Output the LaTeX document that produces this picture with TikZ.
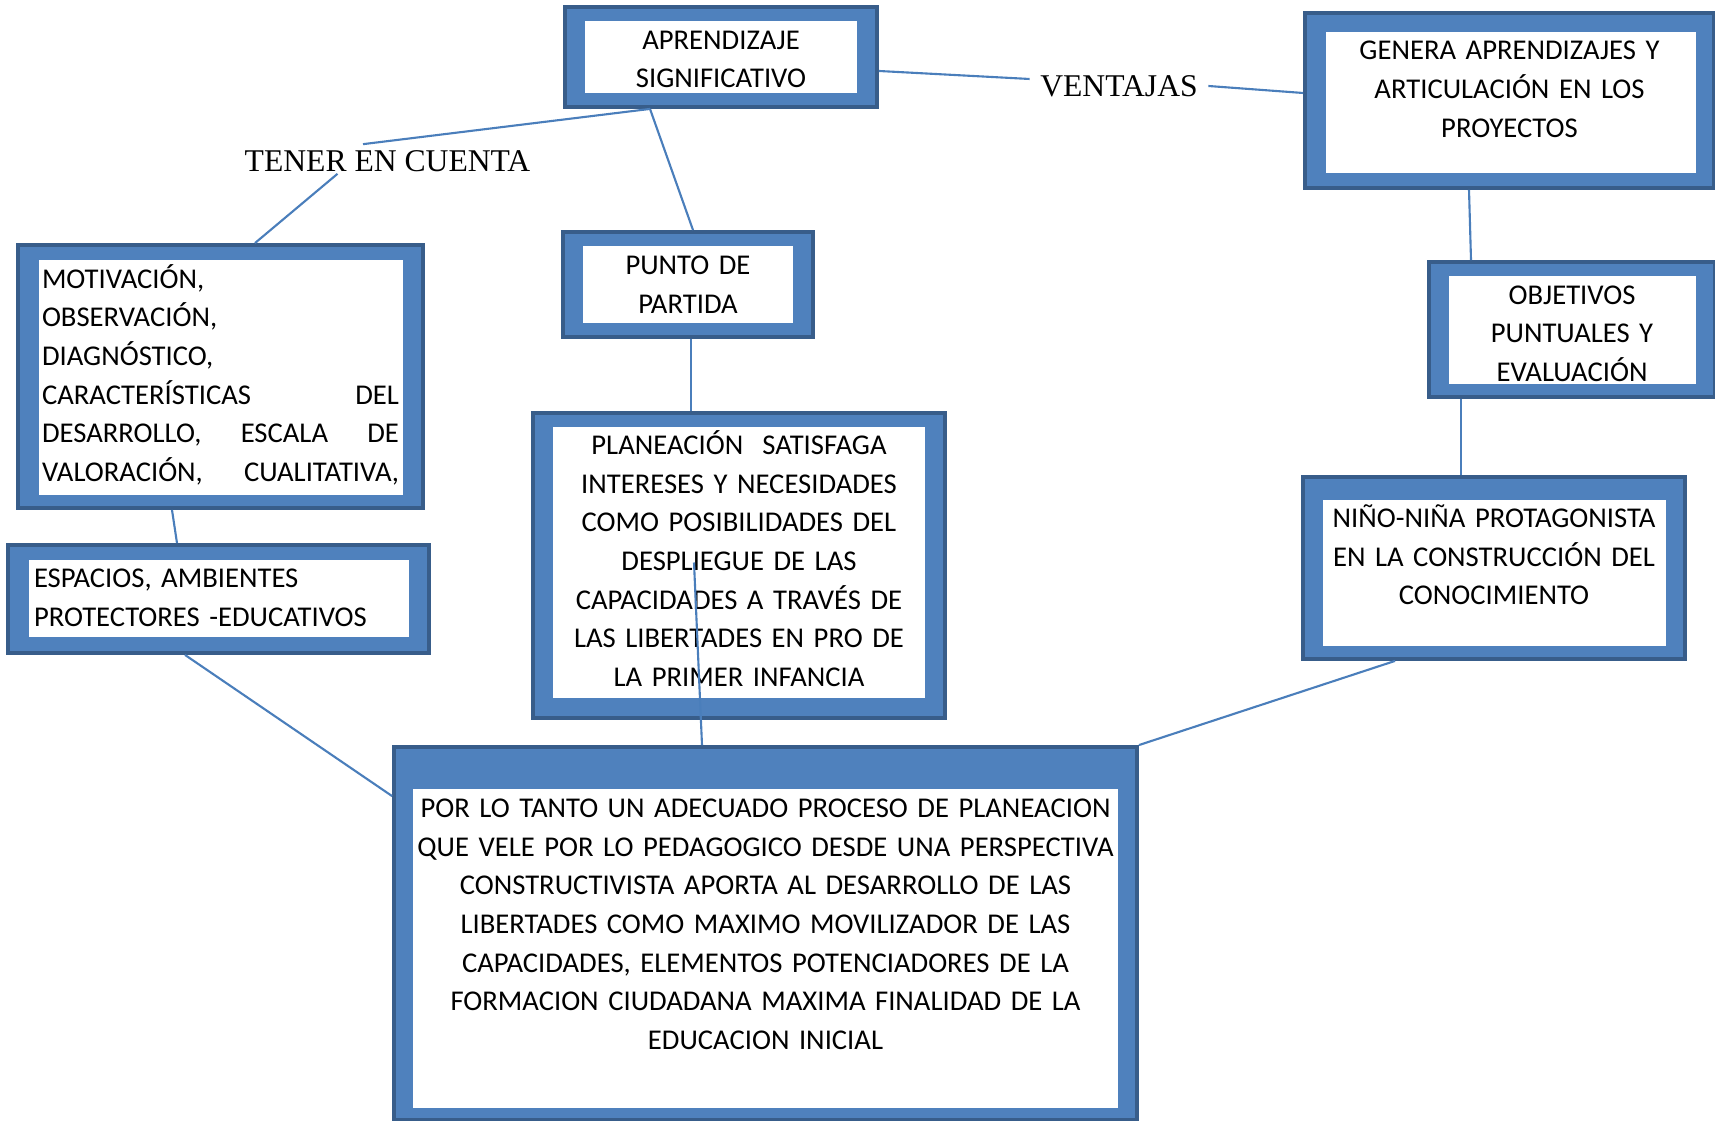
\documentclass[tikz,border=0pt]{standalone}
\usepackage{fontspec}
\setmainfont{Carlito}
\newfontfamily\serifface{Liberation Serif}
\usepackage{tikz}
\definecolor{boxblue}{HTML}{4F81BD}
\definecolor{boxdark}{HTML}{385D8A}
\definecolor{linkblue}{HTML}{4A7EBB}
\newcommand{\boxtext}{\fontsize{8.15pt}{11pt}\selectfont}
\newcommand{\tagtext}{\serifface\fontsize{9pt}{11pt}\selectfont}
\tikzset{band/.code n args={4}{\def\bl{#1}\def\br{#2}\def\bt{#3}\def\bb{#4}}}
\tikzstyle{concept} = [rectangle, draw=boxdark, line width=1.1pt, fill=boxblue, inner sep=0pt, align=center, text height=0.19cm, font=\boxtext, band={0.2cm}{0.2cm}{0.14cm}{0.14cm}, path picture={\fill[white] ([xshift=\bl, yshift=-\bt]path picture bounding box.north west) rectangle ([xshift=-\br, yshift=\bb]path picture bounding box.south east);}]
\tikzstyle{tag} = [inner sep=0.1cm, font=\tagtext]
\tikzstyle{link} = [draw=linkblue, line width=0.6pt]

\begin{document}
\begin{tikzpicture}
	\useasboundingbox (0,0) rectangle (17.15,11.2);
	\node (aprend) [concept, minimum width=3.12cm, minimum height=1cm, text width=2.8cm, text depth=0.347cm] at (7.21,10.63) {APRENDIZAJE\\SIGNIFICATIVO};
	\node (punto) [concept, minimum width=2.5cm, minimum height=1.05cm, text width=2.2cm, text depth=0.387cm] at (6.88,8.355) {PUNTO DE\\PARTIDA};
	\node (motiv) [concept, minimum width=4.05cm, minimum height=2.63cm, text width=3.57cm, align=justify, text depth=1.955cm, band={0.21cm}{0.2cm}{0.15cm}{0.13cm}] at (2.205,7.435) {MOTIVACIÓN,\\OBSERVACIÓN,\\DIAGNÓSTICO,\\CARACTERÍSTICAS\hfill DEL\\DESARROLLO,\hfill ESCALA\hfill DE\\VALORACIÓN,\hfill CUALITATIVA,};
	\node (espacios) [concept, minimum width=4.21cm, minimum height=1.08cm, text width=3.69cm, align=left, text depth=0.417cm, band={0.21cm}{0.2cm}{0.15cm}{0.16cm}] at (2.185,5.21) {ESPACIOS, AMBIENTES\\PROTECTORES -EDUCATIVOS};
	\node (planea) [concept, minimum width=4.12cm, minimum height=3.05cm, text width=3.9cm, text depth=2.41cm, band={0.2cm}{0.2cm}{0.14cm}{0.2cm}] at (7.39,5.545) {PLANEACIÓN~~SATISFAGA\\INTERESES Y NECESIDADES\\COMO POSIBILIDADES DEL\\DESPLIEGUE DE LAS\\CAPACIDADES A TRAVÉS DE\\LAS LIBERTADES EN PRO DE\\LA PRIMER INFANCIA};
	\node (genera) [concept, minimum width=4.09cm, minimum height=1.75cm, text width=3.9cm, text depth=1.003cm, band={0.21cm}{0.18cm}{0.19cm}{0.15cm}] at (15.095,10.195) {GENERA APRENDIZAJES Y\\ARTICULACIÓN EN LOS\\PROYECTOS};
	\node (objet) [concept, minimum width=2.86cm, minimum height=1.35cm, text width=2.5cm, text depth=0.693cm, band={0.2cm}{0.19cm}{0.14cm}{0.13cm}] at (15.72,7.905) {OBJETIVOS\\PUNTUALES Y\\EVALUACIÓN};
	\node (nino) [concept, minimum width=3.82cm, minimum height=1.82cm, text width=3.6cm, text depth=1.003cm, band={0.2cm}{0.19cm}{0.23cm}{0.13cm}] at (14.94,5.52) {NIÑO-NIÑA PROTAGONISTA\\EN LA CONSTRUCCIÓN DEL\\CONOCIMIENTO};
	\node (por) [concept, minimum width=7.43cm, minimum height=3.73cm, text width=7.3cm, text depth=2.51cm, band={0.19cm}{0.19cm}{0.42cm}{0.12cm}] at (7.655,1.865) {POR LO TANTO UN ADECUADO PROCESO DE PLANEACION\\QUE VELE POR LO PEDAGOGICO DESDE UNA PERSPECTIVA\\CONSTRUCTIVISTA APORTA AL DESARROLLO DE LAS\\LIBERTADES COMO MAXIMO MOVILIZADOR DE LAS\\CAPACIDADES, ELEMENTOS POTENCIADORES DE LA\\FORMACION CIUDADANA MAXIMA FINALIDAD DE LA\\EDUCACION INICIAL};
	\node (tener) [tag] at (3.875,9.585) {TENER EN CUENTA};
	\node (ventajas) [tag] at (11.19,10.34) {VENTAJAS};
	
	\draw [link]([xshift=-0.71cm]aprend.south) -- ([xshift=-0.245cm,yshift=-0.04cm]tener.north);
	\draw [link]([xshift=-0.5cm,yshift=0.09cm]tener.south) -- ([xshift=0.345cm]motiv.north);
	\draw [link]([xshift=-0.71cm]aprend.south) -- ([xshift=0.05cm]punto.north);
	\draw [link]([yshift=-0.14cm]aprend.east) -- ([yshift=0.07cm]ventajas.west);
	\draw [link](ventajas.east) -- ([yshift=0.075cm]genera.west);
	\draw [link]([xshift=-0.405cm]genera.south) -- ([xshift=-1.01cm]objet.north);
	\draw [link]([xshift=-1.11cm]objet.south) -- ([xshift=-0.33cm]nino.north);
	\draw [link]([xshift=-0.99cm]nino.south) -- (por.north east);
	\draw [link]([xshift=-0.485cm]motiv.south) -- ([xshift=-0.415cm]espacios.north);
	\draw [link]([xshift=-0.335cm]espacios.south) -- ([yshift=-0.51cm]por.north west);
	\draw [link]([xshift=0.03cm]punto.south) -- ([xshift=-0.48cm]planea.north);
	\draw [link]([xshift=-0.45cm,yshift=0.03cm]planea.center) -- ([xshift=-0.635cm]por.north);
\end{tikzpicture}
\end{document}
